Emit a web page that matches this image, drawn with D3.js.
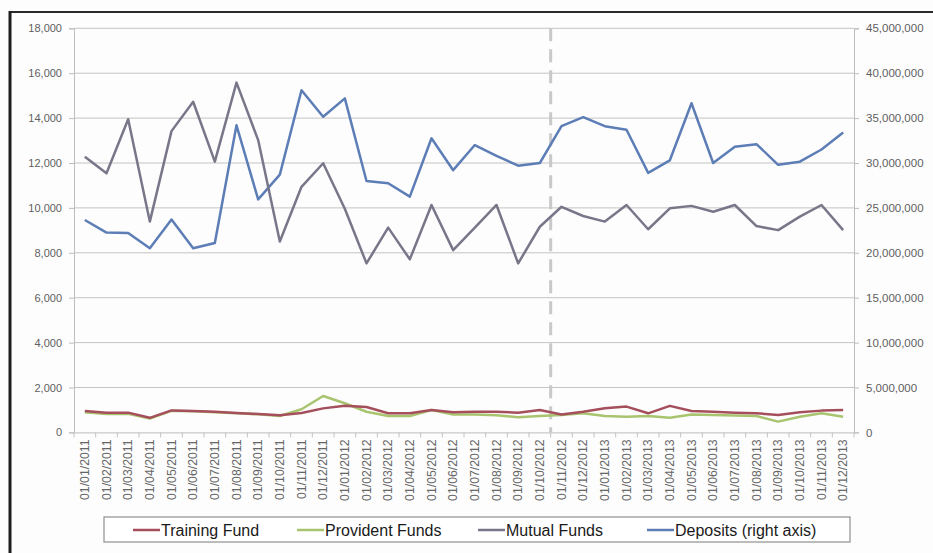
<!DOCTYPE html>
<html>
<head>
<meta charset="utf-8">
<script src="https://cdn.jsdelivr.net/npm/d3@7"></script>
<style>
  html, body { margin: 0; padding: 0; background: #ffffff; }
  svg { display: block; }
</style>
</head>
<body>
<svg id="chart" width="933" height="553"></svg>
<script>
// ---------- DATA ----------
const categories = [
  "01/01/2011","01/02/2011","01/03/2011","01/04/2011","01/05/2011","01/06/2011",
  "01/07/2011","01/08/2011","01/09/2011","01/10/2011","01/11/2011","01/12/2011",
  "01/01/2012","01/02/2012","01/03/2012","01/04/2012","01/05/2012","01/06/2012",
  "01/07/2012","01/08/2012","01/09/2012","01/10/2012","01/11/2012","01/12/2012",
  "01/01/2013","01/02/2013","01/03/2013","01/04/2013","01/05/2013","01/06/2013",
  "01/07/2013","01/08/2013","01/09/2013","01/10/2013","01/11/2013","01/12/2013"
];
const trainingFund = [950, 870, 880, 650, 980, 950, 920, 860, 820, 760, 860, 1070,
  1190, 1130, 850, 850, 1000, 900, 920, 920, 880, 1000, 800, 920,
  1080, 1150, 850, 1180, 950, 920, 880, 850, 780, 900, 970, 1000];
const providentFunds = [900, 820, 830, 620, 960, 940, 900, 850, 810, 730, 1030, 1620,
  1300, 920, 730, 730, 1000, 800, 800, 760, 680, 730, 780, 850,
  730, 700, 730, 650, 800, 780, 750, 730, 480, 700, 850, 700];
const mutualFunds = [12280, 11540, 13950, 9390, 13420, 14730, 12060, 15580, 13020, 8500, 10940, 11990,
  9960, 7530, 9120, 7710, 10130, 8120, 9120, 10130, 7530, 9160, 10050, 9640,
  9390, 10130, 9050, 9980, 10090, 9830, 10130, 9190, 9010, 9610, 10130, 9010];
const deposits = [23650000, 22250000, 22200000, 20500000, 23700000, 20500000, 21100000, 34200000, 25950000, 28700000, 38100000, 35150000,
  37200000, 28000000, 27750000, 26250000, 32750000, 29200000, 32000000, 30800000, 29700000, 30000000, 34100000, 35100000,
  34100000, 33700000, 28900000, 30300000, 36650000, 30000000, 31800000, 32100000, 29800000, 30150000, 31500000, 33400000];
const leftTicks = [0, 2000, 4000, 6000, 8000, 10000, 12000, 14000, 16000, 18000];
const rightTicks = [0, 5000000, 10000000, 15000000, 20000000, 25000000, 30000000, 35000000, 40000000, 45000000];
const seriesNames = ["Training Fund", "Provident Funds", "Mutual Funds", "Deposits (right axis)"];
const splitCategory = "01/11/2012";

// ---------- LAYOUT ----------
const svg = d3.select("#chart");
const plot = { left: 74, right: 854, top: 28.3, bottom: 432.4 };
const colors = {
  "Training Fund": "#a54f5c",
  "Provident Funds": "#a8c46e",
  "Mutual Funds": "#78778a",
  "Deposits (right axis)": "#5d7db6"
};

const x = d3.scaleBand().domain(categories).range([plot.left, plot.right]).padding(0);
const cx = c => x(c) + x.bandwidth() / 2;
const yL = d3.scaleLinear().domain([0, 18000]).range([plot.bottom, plot.top]);
const yR = d3.scaleLinear().domain([0, 45000000]).range([plot.bottom, plot.top]);

// frame (scan border)
svg.append("rect").attr("x", 0).attr("y", 0).attr("width", 933).attr("height", 553).attr("fill", "#fdfdfd");
svg.append("line").attr("x1", 9).attr("x2", 933).attr("y1", 12).attr("y2", 12)
  .attr("stroke", "#2a2a2a").attr("stroke-width", 2);
svg.append("line").attr("x1", 10).attr("x2", 10).attr("y1", 11).attr("y2", 553)
  .attr("stroke", "#1e1e1e").attr("stroke-width", 3);

// gridlines
svg.append("g").selectAll("line").data(leftTicks.filter(d => d > 0)).join("line")
  .attr("x1", plot.left).attr("x2", plot.right)
  .attr("y1", d => yL(d)).attr("y2", d => yL(d))
  .attr("stroke", "#c4c4c4").attr("stroke-width", 1);

// left axis
const gL = svg.append("g").attr("transform", `translate(${plot.left},0)`)
  .call(d3.axisLeft(yL).tickValues(leftTicks).tickFormat(d3.format(",")).tickSize(5).tickPadding(7));
gL.select(".domain").attr("stroke", "#bdbdbd");
gL.selectAll(".tick line").attr("stroke", "#bdbdbd");
gL.selectAll("text").attr("fill", "#5f5f5f").style("font-family", "'Liberation Sans', Arial, sans-serif").style("font-size", "11px");

// right axis
const gR = svg.append("g").attr("transform", `translate(${plot.right},0)`)
  .call(d3.axisRight(yR).tickValues(rightTicks).tickFormat(d3.format(",")).tickSize(5).tickPadding(7));
gR.select(".domain").attr("stroke", "#bdbdbd");
gR.selectAll(".tick line").attr("stroke", "#bdbdbd");
gR.selectAll("text").attr("fill", "#5f5f5f").style("font-family", "'Liberation Sans', Arial, sans-serif").style("font-size", "11.5px");

// bottom axis
const gB = svg.append("g").attr("transform", `translate(0,${plot.bottom})`)
  .call(d3.axisBottom(x).tickSize(0).tickPadding(0));
gB.select(".domain").attr("stroke", "#bdbdbd");
gB.selectAll(".tick text")
  .attr("transform", "rotate(-90)")
  .attr("text-anchor", "end")
  .attr("x", -7).attr("y", 0).attr("dy", "0.35em")
  .attr("fill", "#666")
  .style("font-family", "'Liberation Sans', Arial, sans-serif").style("font-size", "12.3px");
// category boundary ticks
svg.append("g").selectAll("line").data(categories.concat(["__end"])).join("line")
  .attr("x1", (d, i) => i < categories.length ? x(d) : plot.right)
  .attr("x2", (d, i) => i < categories.length ? x(d) : plot.right)
  .attr("y1", plot.bottom).attr("y2", plot.bottom + 5)
  .attr("stroke", "#c4c4c4");

// dashed split line
svg.append("line")
  .attr("x1", x(splitCategory)).attr("x2", x(splitCategory))
  .attr("y1", plot.top).attr("y2", plot.bottom)
  .attr("stroke", "#c9c9c9").attr("stroke-width", 3).attr("stroke-dasharray", "13,8");

// lines
const lineL = d3.line().x((d, i) => cx(categories[i])).y(d => yL(d));
const lineR = d3.line().x((d, i) => cx(categories[i])).y(d => yR(d));
const series = [
  { name: "Deposits (right axis)", values: deposits, gen: lineR },
  { name: "Mutual Funds", values: mutualFunds, gen: lineL },
  { name: "Provident Funds", values: providentFunds, gen: lineL },
  { name: "Training Fund", values: trainingFund, gen: lineL }
];
svg.append("g").selectAll("path").data(series).join("path")
  .attr("d", d => d.gen(d.values))
  .attr("fill", "none")
  .attr("stroke", d => colors[d.name])
  .attr("stroke-width", 2.5)
  .attr("stroke-linejoin", "round");

// legend
const legend = svg.append("g");
legend.append("rect").attr("x", 104).attr("y", 517).attr("width", 746).attr("height", 25)
  .attr("fill", "#ffffff").attr("stroke", "#8f8f8f").attr("stroke-width", 1.2);
const legendX = [133, 297, 478, 647];
const items = legend.selectAll("g.item").data(seriesNames).join("g")
  .attr("class", "item")
  .attr("transform", (d, i) => `translate(${legendX[i]},530)`);
items.append("line").attr("x1", 0).attr("x2", 27).attr("y1", 0).attr("y2", 0)
  .attr("stroke", d => colors[d]).attr("stroke-width", 2.5);
items.append("text").attr("x", 28).attr("y", 0).attr("dy", "0.35em")
  .text(d => d)
  .attr("fill", "#1a1a1a")
  .style("font-family", "'Liberation Sans Narrow', 'Liberation Sans', Arial, sans-serif")
  .style("font-size", "16px");
</script>
</body>
</html>
